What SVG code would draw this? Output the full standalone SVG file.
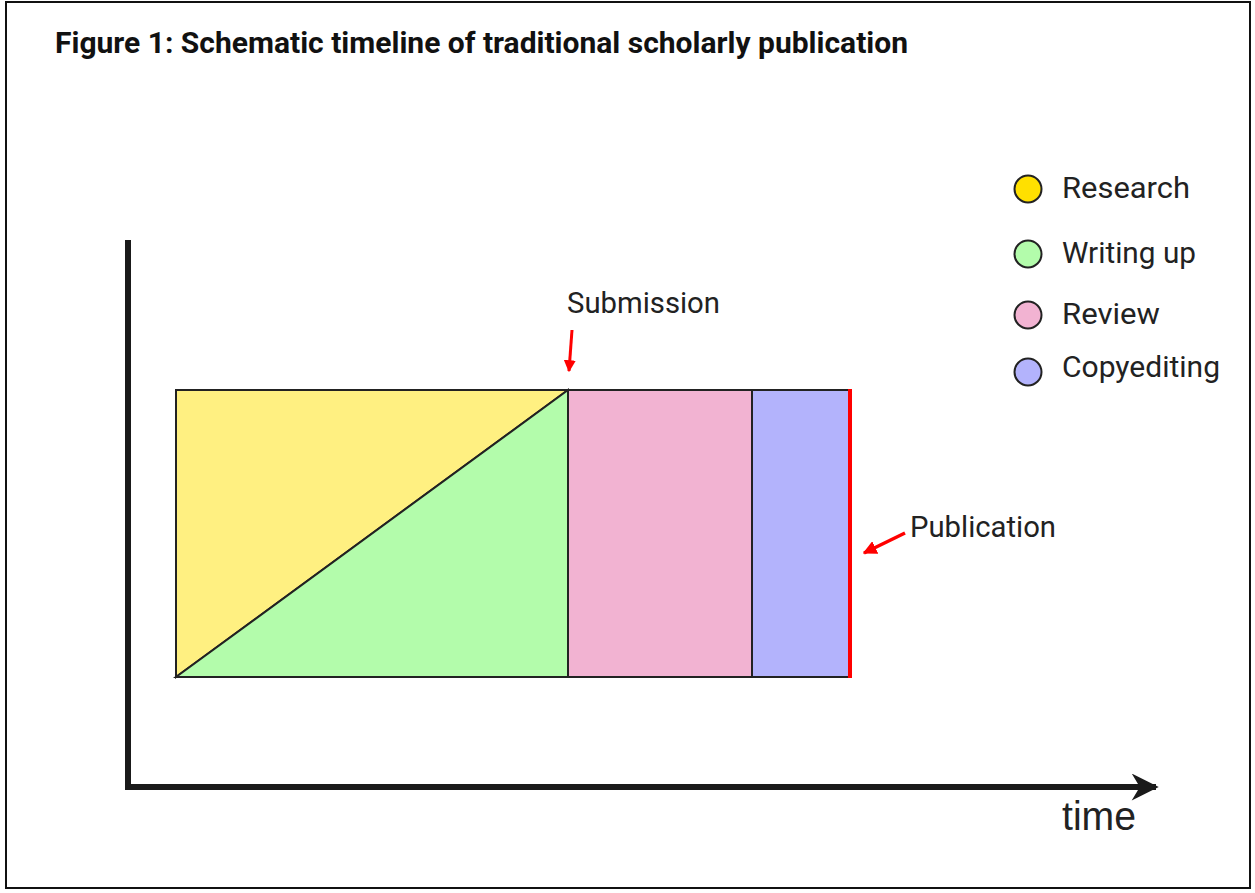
<svg xmlns="http://www.w3.org/2000/svg" width="1255" height="893" viewBox="0 0 1255 893">
<style>
.lbl{font-family:Roboto,"Liberation Sans",sans-serif;font-size:29px;fill:#222}
.blk{stroke:#222;stroke-width:2}
</style>
<defs>
<marker id="red" viewBox="0 0 10 10" refX="9" refY="5" markerWidth="4" markerHeight="4" orient="auto" markerUnits="strokeWidth"><path d="M0,0L10,5L0,10z" fill="#f00"/></marker>
<marker id="blk" viewBox="0 0 10 10" refX="9" refY="5" markerWidth="5" markerHeight="4.5" orient="auto" markerUnits="strokeWidth"><path d="M0,0L10,5L0,10L3,5z" fill="#1a1a1a"/></marker>
</defs>
<rect x="0" y="0" width="1255" height="893" fill="#fff"/>
<rect x="6" y="2" width="1244" height="886" fill="none" stroke="#111" stroke-width="2"/>
<text x="55" y="53" textLength="853" lengthAdjust="spacingAndGlyphs" font-family="Roboto,'Liberation Sans',sans-serif" font-weight="bold" font-size="30" fill="#111">Figure 1: Schematic timeline of traditional scholarly publication</text>
<g id="axes">
<path d="M128,240V787H1156" fill="none" stroke="#1a1a1a" stroke-width="6" marker-end="url(#blk)"/>
<text x="1062" y="830" textLength="74" lengthAdjust="spacingAndGlyphs" font-family="'Liberation Sans',Arial,sans-serif" font-size="40" fill="#222">time</text>
</g>
<g id="research"><polygon points="176,390 568,390 176,677" fill="#fff081" class="blk"/></g>
<g id="writing"><polygon points="568,390 568,677 176,677" fill="#b3fcab" class="blk"/></g>
<g id="review"><rect x="568" y="390" width="184" height="287" fill="#f2b3d2" class="blk"/></g>
<g id="copyediting"><rect x="752" y="390" width="97" height="287" fill="#b3b3fc" class="blk"/></g>
<g id="publication-line"><line x1="850" y1="389" x2="850" y2="678" stroke="#f00" stroke-width="4"/></g>
<g id="connectors">
<line x1="572" y1="330" x2="569" y2="371" stroke="#f00" stroke-width="3" marker-end="url(#red)"/>
<line x1="905" y1="533" x2="864" y2="553" stroke="#f00" stroke-width="3.5" marker-end="url(#red)"/>
</g>
<g id="submission"><text x="567" y="313" textLength="153" lengthAdjust="spacingAndGlyphs" class="lbl">Submission</text></g>
<g id="publication"><text x="910" y="537" textLength="146" lengthAdjust="spacingAndGlyphs" class="lbl">Publication</text></g>
<g id="legend">
<circle cx="1028" cy="189" r="13.5" fill="#ffe000" class="blk"/>
<text x="1062" y="198" textLength="128" lengthAdjust="spacingAndGlyphs" class="lbl">Research</text>
<circle cx="1028" cy="254" r="13.5" fill="#b3fcab" class="blk"/>
<text x="1062" y="263" textLength="134" lengthAdjust="spacingAndGlyphs" class="lbl">Writing up</text>
<circle cx="1028" cy="315" r="13.5" fill="#f2b3d2" class="blk"/>
<text x="1062" y="324" textLength="98" lengthAdjust="spacingAndGlyphs" class="lbl">Review</text>
<circle cx="1028" cy="372" r="13.5" fill="#b3b3fc" class="blk"/>
<text x="1062" y="377" textLength="158" lengthAdjust="spacingAndGlyphs" class="lbl">Copyediting</text>
</g>
</svg>
